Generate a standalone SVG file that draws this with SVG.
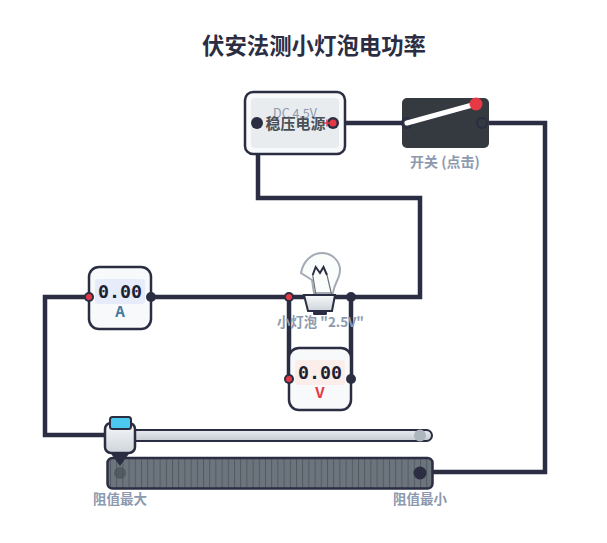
<svg xmlns="http://www.w3.org/2000/svg" width="607" height="543" viewBox="0 0 607 543">
<defs>
<linearGradient id="g1" x1="0" y1="0" x2="0" y2="1"><stop offset="0" stop-color="#f8f9fa"/><stop offset="1" stop-color="#ced4da"/></linearGradient>
<linearGradient id="g2" x1="0" y1="0" x2="0" y2="1"><stop offset="0" stop-color="#e9ecef"/><stop offset="1" stop-color="#c4c9d0"/></linearGradient>
<pattern id="coil" width="6.2" height="30" patternUnits="userSpaceOnUse" x="110"><rect width="6.2" height="30" fill="#6c757d"/><rect x="0" width="1" height="30" fill="#495057" fill-opacity="0.75"/></pattern>
</defs>
<style>
text{font-family:"Noto Sans CJK SC","Liberation Sans",sans-serif}
.w{fill:none;stroke:#2b2d42;stroke-width:4.5;stroke-linejoin:miter}
.lbl{font-size:13.5px;font-weight:700;fill:#8d99ae;text-anchor:middle}
.dark{fill:#2b2d42}
.red{fill:#e63946}
.meter{fill:#f8f9fa;stroke:#2b2d42;stroke-width:2.5}
.val{font-family:"DejaVu Sans Mono",monospace;font-size:18.300px;font-weight:700;fill:#1d2233;text-anchor:middle}
</style>
<rect width="607" height="543" fill="#fff"/>
<text x="314" y="54" font-size="22.400" font-weight="700" fill="#2b2d42" text-anchor="middle">伏安法测小灯泡电功率</text>
<g id="connectors">
<path class="w" d="M333 123H405"/>
<path class="w" d="M482 123H545V472H420"/>
<path class="w" d="M258 150V198H420V297H351"/>
<path class="w" d="M351 297H289"/>
<path class="w" d="M289 297H151"/>
<path class="w" d="M89 297H45V435H119"/>
<path class="w" d="M289 297V379"/>
<path class="w" d="M351 297V379"/>
</g>
<g id="power">
<rect x="245" y="92" width="100" height="62" rx="8" fill="#f8f9fa" stroke="#2b2d42" stroke-width="2.5"/>
<rect x="251" y="98" width="88" height="50" rx="4" fill="#e9ecef"/>
<text x="295" y="118" font-size="12.500" fill="#8d99ae" text-anchor="middle">DC 4.5V</text>
<text x="295.500" y="128.500" font-size="15" font-weight="700" fill="#495057" text-anchor="middle">稳压电源</text>
<circle cx="257" cy="123" r="6" class="dark"/>
<circle cx="333" cy="123" r="6" class="dark"/>
<circle cx="333" cy="123" r="3.5" class="red"/>
<path d="M324 123h8M327 119.500v7" stroke="#e63946" stroke-width="1.500"/>
</g>
<g id="switch">
<rect x="402" y="98" width="87" height="50" rx="5" fill="#343a40"/>
<circle cx="407" cy="123" r="5" fill="#343a40" stroke="#2b2d42" stroke-width="2"/>
<circle cx="482" cy="123" r="5" fill="#343a40" stroke="#2b2d42" stroke-width="2"/>
<path d="M407 123L476 104" stroke="#fff" stroke-width="5" stroke-linecap="round"/>
<circle cx="476" cy="104" r="6.500" class="red"/>
<text x="445" y="167" class="lbl" style="font-size:14px">开关 (点击)</text>
</g>
<g id="bulb">
<path d="M301 273C303 261 312 253 322 253C332 253 340 261 340 270C340 279 334 283 333 293L314 293L312 280Z" fill="#f8f9fa" fill-opacity="0.5" stroke="#a4abb4" stroke-width="2"/>
<path d="M316 295L312.700 275M331.700 295L327 275" fill="none" stroke="#6c757d" stroke-width="1.200"/>
<path d="M312.700 275L315.700 267L320 273L323.500 267L327 275" fill="none" stroke="#2b2d42" stroke-width="2"/>
<path d="M304 295H335L332 311H308Z" fill="url(#g1)" stroke="#2b2d42" stroke-width="2"/>
<rect x="313" y="311" width="14" height="4" rx="1.500" class="dark"/>
<text x="320.500" y="327" class="lbl" style="font-size:13.400px">小灯泡 "2.5V"</text>
<circle cx="289" cy="297" r="5" class="dark"/><circle cx="289" cy="297" r="3" class="red"/>
<circle cx="351" cy="297" r="5" class="dark"/>
</g>
<g id="voltmeter">
<rect x="289" y="348" width="62" height="62" rx="10" class="meter"/>
<rect x="295" y="360" width="50" height="25" rx="3" fill="#fbeeea"/>
<text x="320" y="379" class="val">0.00</text>
<text x="320" y="398" font-size="15" font-weight="700" fill="#e63946" text-anchor="middle">V</text>
<circle cx="289" cy="379" r="5" class="dark"/><circle cx="289" cy="379" r="3" class="red"/>
<circle cx="351" cy="379" r="5" class="dark"/>
</g>
<g id="ammeter">
<rect x="89" y="267" width="62" height="62" rx="10" class="meter"/>
<rect x="95" y="279" width="50" height="25" rx="3" fill="#e6ecfa"/>
<text x="120" y="298" class="val">0.00</text>
<text x="120" y="317" font-size="15" font-weight="700" fill="#457b9d" text-anchor="middle">A</text>
<circle cx="89" cy="297" r="5" class="dark"/><circle cx="89" cy="297" r="3" class="red"/>
<circle cx="151" cy="297" r="5" class="dark"/>
</g>
<g id="rheostat">
<rect x="107.500" y="458" width="325" height="30.500" rx="5" fill="url(#coil)" stroke="#2b2d42" stroke-width="2.500"/>
<circle cx="420" cy="473" r="6.500" class="dark"/>
<rect x="119" y="430" width="313" height="11" rx="5.500" fill="url(#g2)" stroke="#2b2d42" stroke-width="2"/>
<circle cx="420" cy="435.500" r="6" fill="#adb5bd"/>
<circle cx="120" cy="473" r="6" fill="#495057" fill-opacity="0.7"/>
<path d="M110.500 453H129.500L120 466Z" class="dark"/>
<rect x="105" y="423" width="30" height="30" rx="6" fill="url(#g1)" stroke="#2b2d42" stroke-width="2.500"/>
<rect x="110" y="417" width="21" height="12" rx="2.500" fill="#4cc9f0" stroke="#2b2d42" stroke-width="2"/>
<text x="120" y="504" class="lbl">阻值最大</text>
<text x="420" y="504" class="lbl">阻值最小</text>
</g>
</svg>
